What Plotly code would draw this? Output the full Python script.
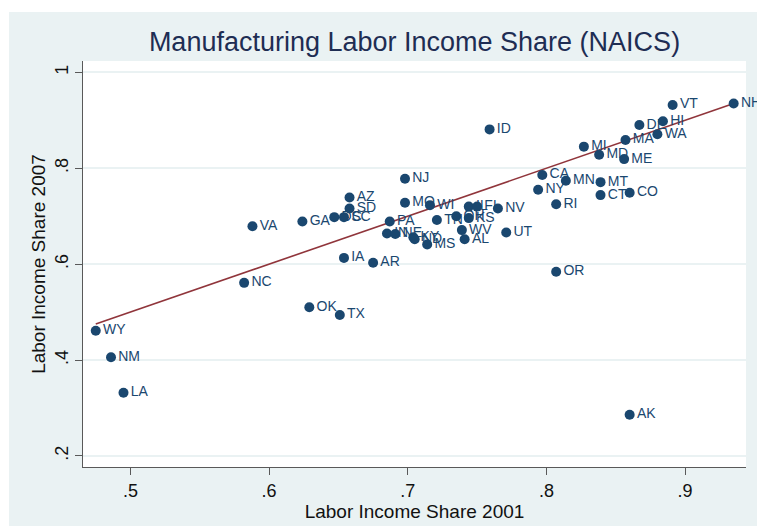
import plotly.graph_objects as go

# State manufacturing labor income shares, 2001 vs 2007
states = [
    "WY", "NM", "LA", "NC", "VA", "GA", "DC", "SC", "AZ", "SD",
    "IA", "AR", "OK", "TX", "PA", "IN", "NE", "KY", "ND", "MS",
    "NJ", "MO", "WI", "TN", "OH", "KS", "IL", "FL", "WV", "AL",
    "NV", "UT", "ID", "CA", "NY", "MN", "RI", "OR", "MI", "MD",
    "MT", "CT", "ME", "MA", "CO", "AK", "DE", "WA", "HI", "VT",
    "NH",
]
share_2001 = [
    0.475, 0.486, 0.495, 0.582, 0.588, 0.624, 0.647, 0.654, 0.658, 0.658,
    0.654, 0.675, 0.629, 0.651, 0.687, 0.685, 0.691, 0.704, 0.705, 0.714,
    0.698, 0.698, 0.716, 0.721, 0.735, 0.744, 0.744, 0.750, 0.739, 0.741,
    0.765, 0.771, 0.759, 0.797, 0.794, 0.814, 0.807, 0.807, 0.827, 0.838,
    0.839, 0.839, 0.856, 0.857, 0.860, 0.860, 0.867, 0.880, 0.884, 0.891,
    0.935,
]
share_2007 = [
    0.461, 0.406, 0.332, 0.561, 0.679, 0.689, 0.698, 0.698, 0.739, 0.716,
    0.613, 0.603, 0.510, 0.494, 0.689, 0.664, 0.663, 0.656, 0.652, 0.641,
    0.778, 0.728, 0.723, 0.692, 0.700, 0.696, 0.720, 0.720, 0.671, 0.652,
    0.716, 0.666, 0.881, 0.786, 0.755, 0.774, 0.725, 0.584, 0.845, 0.828,
    0.771, 0.744, 0.819, 0.859, 0.749, 0.286, 0.890, 0.871, 0.898, 0.932,
    0.935,
]
# fitted line, evaluated at the ends of the 2001 range
fit_x = [0.475, 0.935]
fit_y = [0.475, 0.935]

x_ticks = [0.5, 0.6, 0.7, 0.8, 0.9]
x_tick_text = [".5", ".6", ".7", ".8", ".9"]
y_ticks = [0.2, 0.4, 0.6, 0.8, 1.0]
y_tick_text = [".2", ".4", ".6", ".8", "1"]

NAVY = "#1A476F"
MAROON = "#90353B"
REGION = "#EAF2F3"
AXIS = "#595959"
FONT = "Liberation Sans, Arial, sans-serif"

W, H = 757, 532
ML, MR, MT, MB = 83, 11, 61, 65

fig = go.Figure()
fig.add_trace(go.Scatter(
    x=fit_x, y=fit_y, mode="lines",
    line=dict(color=MAROON, width=1.6),
    hoverinfo="skip", showlegend=False,
))
# labels first (offset by an invisible marker), visible markers on top
fig.add_trace(go.Scatter(
    x=share_2001, y=share_2007, mode="markers+text", text=states,
    textposition="middle right",
    marker=dict(size=10, color="rgba(0,0,0,0)", line=dict(width=0)),
    textfont=dict(family=FONT, size=14, color=NAVY),
    cliponaxis=False, hoverinfo="skip", showlegend=False,
))
fig.add_trace(go.Scatter(
    x=share_2001, y=share_2007, mode="markers",
    marker=dict(color=NAVY, size=10, line=dict(width=0)),
    text=states, showlegend=False,
))


def px_x(px):
    return (px - ML) / (W - ML - MR)


def px_y(py):
    return (H - MB - py) / (H - MT - MB)


# white border around the graph region
border = [
    (0, 0, 9, H),
    (0, 0, W, 12),
    (0, 526, W, H),
]
shapes = []
for x0, y0, x1, y1 in border:
    shapes.append(dict(
        type="rect", xref="paper", yref="paper",
        x0=px_x(x0), x1=px_x(x1), y0=px_y(y1), y1=px_y(y0),
        fillcolor="white", line=dict(width=0), layer="below",
    ))

fig.update_layout(
    width=W, height=H, autosize=False,
    margin=dict(l=ML, r=MR, t=MT, b=MB, pad=0),
    paper_bgcolor=REGION, plot_bgcolor="white",
    shapes=shapes,
    title=dict(
        text="Manufacturing Labor Income Share (NAICS)",
        x=0.5, xref="paper", xanchor="center",
        y=1 - 42 / H, yref="container", yanchor="middle",
        font=dict(family=FONT, size=27, color="#1E2D53"),
    ),
    xaxis=dict(
        range=[0.4658, 0.9439], tickvals=x_ticks, ticktext=x_tick_text,
        ticks="outside", ticklen=7, tickcolor=AXIS, tickwidth=1,
        showline=True, linecolor=AXIS, linewidth=1,
        showgrid=False, zeroline=False,
        tickfont=dict(family=FONT, size=18, color="#111111"),
        title=dict(text="Labor Income Share 2001", standoff=0,
                   font=dict(family=FONT, size=19, color="#111111")),
    ),
    yaxis=dict(
        range=[0.177, 1.0236], tickvals=y_ticks, ticktext=y_tick_text,
        tickangle=-90,
        ticks="outside", ticklen=7, tickcolor=AXIS, tickwidth=1,
        showline=True, linecolor=AXIS, linewidth=1,
        showgrid=True, gridcolor=REGION, gridwidth=1.5, zeroline=False,
        tickfont=dict(family=FONT, size=18, color="#111111"),
        title=dict(text="Labor Income Share 2007", standoff=1,
                   font=dict(family=FONT, size=19, color="#111111")),
    ),
)

fig.write_html("out.html")
